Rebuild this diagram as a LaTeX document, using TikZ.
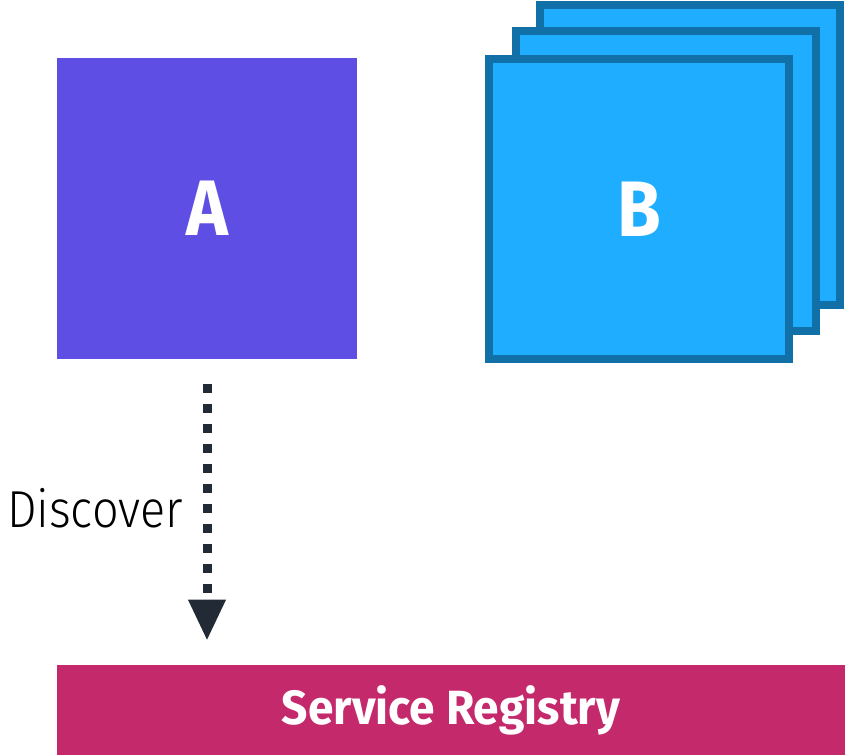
\documentclass[tikz,border=0pt]{standalone}
\usepackage{xcolor}
\usepackage{fontspec}
\setmainfont{Fira Sans}
\newfontfamily\condfont[FakeStretch=0.9]{Fira Sans}
\newfontfamily\regfont[FakeStretch=0.96]{Fira Sans}
\newfontfamily\lightfont[FakeStretch=0.9]{Fira Sans Light}
\usetikzlibrary{arrows.meta,shapes,calc,positioning}
\definecolor{afill}{RGB}{94,78,227}
\definecolor{bfill}{RGB}{31,174,255}
\definecolor{bborder}{RGB}{17,112,168}
\definecolor{regfill}{RGB}{196,41,108}
\definecolor{arrowcol}{RGB}{34,42,53}

\begin{document}
\begin{tikzpicture}[x=0.75pt,y=-0.75pt]
		\tikzstyle{every node}=[inner sep=0pt]
		\tikzstyle{box}=[rectangle, minimum size=225pt]
		\tikzstyle{copy}=[box, draw=bborder, line width=6pt, fill=bfill]
		\tikzstyle{big}=[text=white, font=\condfont\bfseries\fontsize{59}{59}\selectfont]
		\useasboundingbox (0,0) rectangle (845,755);
		\node [box, fill=afill, big] (a) at (207,208.5) {A};
		\node [copy] (b3) at (690,155) {};
		\node [copy] (b2) at (666,181) {};
		\node [copy, big] (b) at (639,209) {B};
		\node [rectangle, fill=regfill, minimum width=591pt, minimum height=67.5pt, text=white, font=\regfont\bfseries\fontsize{36}{36}\selectfont] (reg) at (451,710) {Service Registry};
		\draw [draw=arrowcol, line width=6.75pt, dash pattern=on 6.75pt off 8.25pt, -{Triangle[length=30pt, width=28.5pt, line width=0pt, fill=arrowcol]}, shorten <=18.75pt, shorten >=18.75pt] (a.south) -- (a.south |- reg.north) node [midway, left=14.5pt, yshift=2.5pt, font=\lightfont\fontsize{39}{39}\selectfont] {Discover};
	\end{tikzpicture}
\end{document}
